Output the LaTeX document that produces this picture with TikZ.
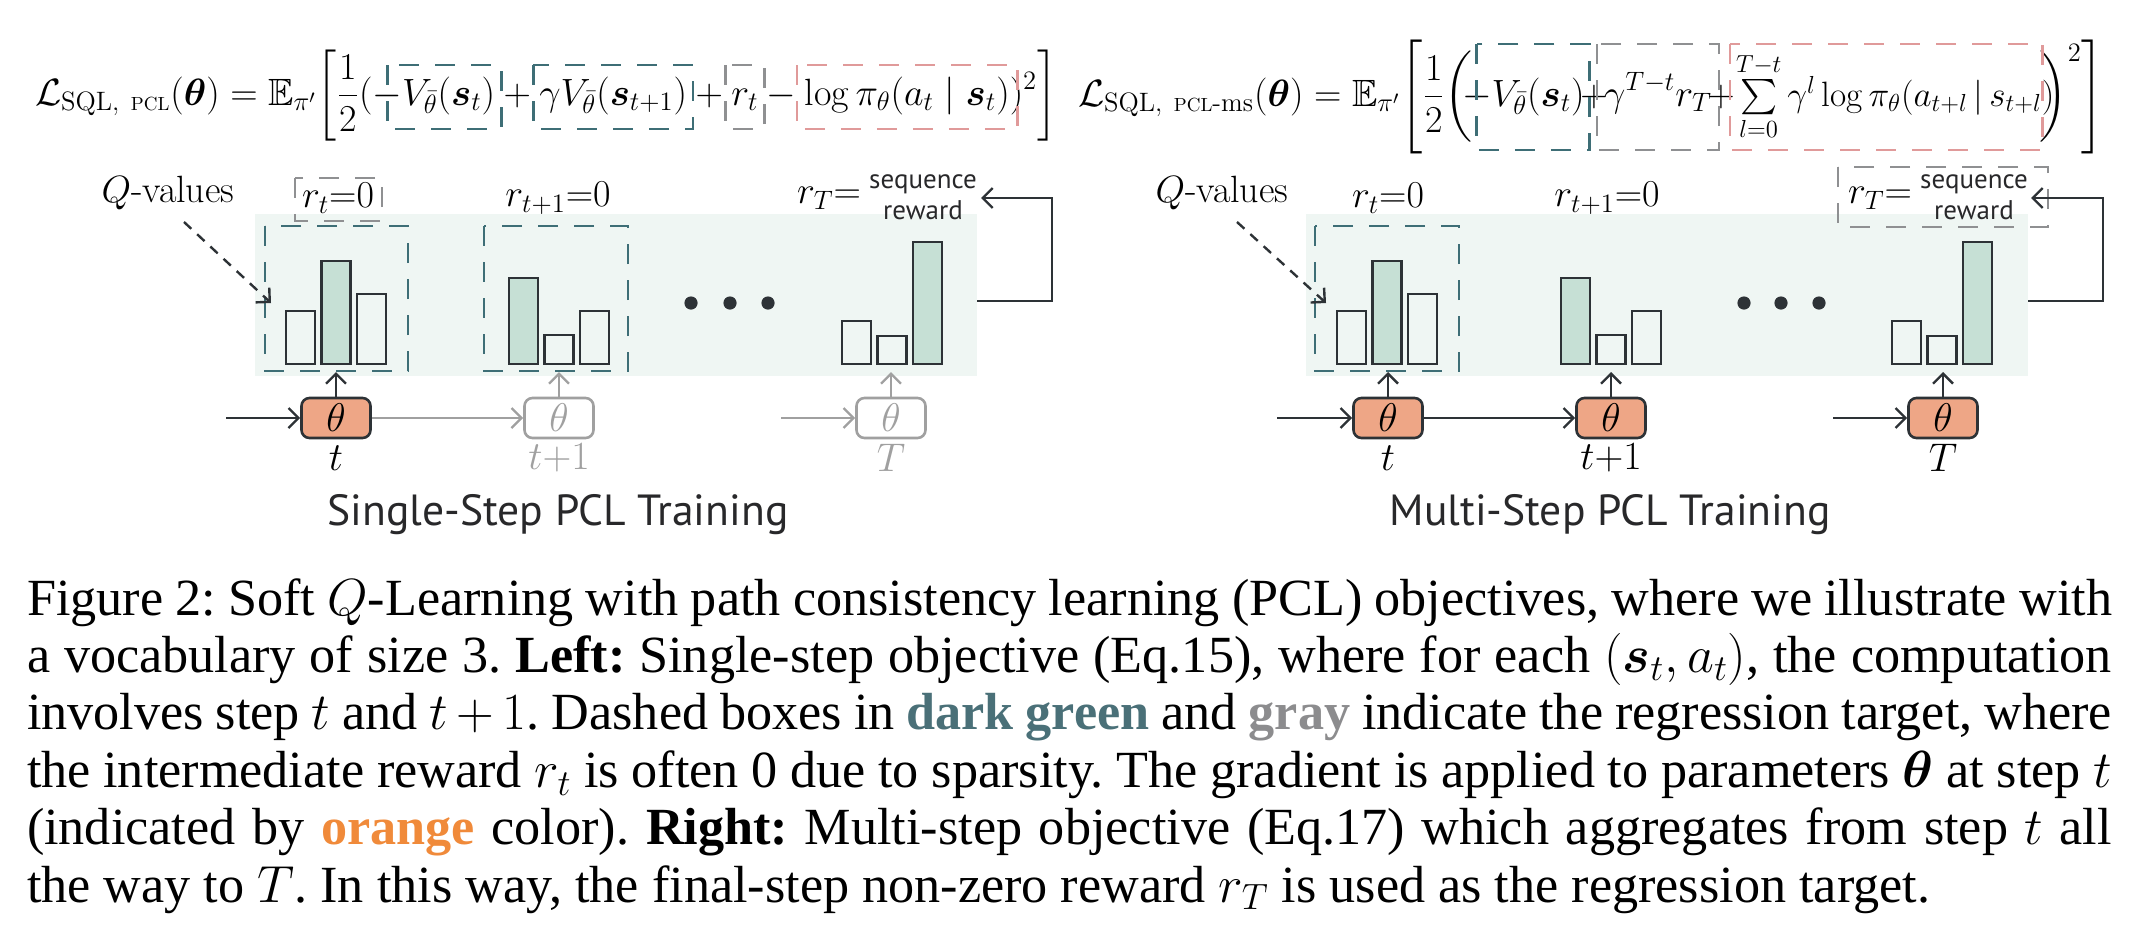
\RequirePackage{fix-cm}
\documentclass[tikz,border=0pt]{standalone}
\usepackage{amsmath,amssymb}
\usepackage{fontspec}
\newfontfamily\capfont{Liberation Serif}
\newfontfamily\ttlfont{PT Sans}
\usetikzlibrary{arrows.meta}
\definecolor{tealc}{RGB}{62,110,118}
\definecolor{grayc}{RGB}{143,144,146}
\definecolor{pinkc}{RGB}{224,154,154}
\definecolor{bgc}{RGB}{239,246,243}
\definecolor{barg}{RGB}{198,224,213}
\definecolor{barline}{RGB}{45,50,54}
\definecolor{orangec}{RGB}{238,166,134}
\definecolor{lgray}{RGB}{160,160,160}
\definecolor{capgreen}{RGB}{74,112,120}
\definecolor{capgray}{RGB}{140,140,142}
\definecolor{caporange}{RGB}{240,138,58}
\definecolor{titlec}{RGB}{40,40,42}
\newcommand{\fsz}{\fontsize{19}{23}\selectfont}
\newcommand{\ssz}{\fontsize{17.6}{22}\selectfont}
\newcommand{\lsz}{\fontsize{19}{22}\selectfont}
\newcommand{\tsz}{\fontsize{20}{23}\selectfont}
\frenchspacing
\begin{document}
\begin{tikzpicture}[x=0.5pt,y=-0.5pt,
  fp/.style={anchor=base west, inner sep=0pt, outer sep=0pt, font=\fsz},
  fpc/.style={anchor=base, inner sep=0pt, outer sep=0pt, font=\fsz},
  tealdash/.style={draw=tealc, line width=1.4pt, dash pattern=on 10pt off 8pt},
  graydash/.style={draw=grayc, line width=1.4pt, dash pattern=on 10pt off 8pt},
  pinkdash/.style={draw=pinkc, line width=1.4pt, dash pattern=on 10pt off 8pt},
  bar/.style={draw=barline, line width=1.3pt},
  gbar/.style={bar, fill=barg},
  th/.style={draw=barline, line width=1.3pt, fill=orangec, rounded corners=4pt, minimum width=34.5pt, minimum height=20pt, inner sep=0pt, font=\tsz},
  thg/.style={draw=lgray, line width=1.3pt, fill=white, text=lgray, rounded corners=4pt, minimum width=34.5pt, minimum height=20pt, inner sep=0pt, font=\tsz},
  arr/.style={draw=barline, line width=1.2pt, -{Straight Barb[length=5pt,width=10pt]}},
  garr/.style={arr, draw=lgray},
  qarr/.style={arr, dash pattern=on 5pt off 4pt},
  lab/.style={inner sep=0pt, font=\lsz},
  tlab/.style={inner sep=0pt, font=\tsz},
  glab/.style={tlab, text=lgray},
  seq/.style={inner sep=0pt, font=\ttlfont\fontsize{13.5}{14}\selectfont, text=titlec},
  ttl/.style={inner sep=0pt, font=\ttlfont\fontsize{21.8}{24}\selectfont, text=titlec},
  capline/.style={anchor=base west, inner sep=0pt, outer sep=0pt, font=\capfont\fontsize{26.1}{28.7}\selectfont},
  dotf/.style={fill=barline}
]
\useasboundingbox (0,0) rectangle (2148,944);

% ---------------- left formula ----------------
\node[fp] (a1) at (35,105) {$\displaystyle\mathcal{L}_{\mathrm{SQL},\ {\scriptscriptstyle\mathrm{PCL}}}(\boldsymbol{\theta}) = \mathbb{E}_{\pi'}\biggl[\frac{1}{2}($};
\node[fp] (a2) at (a1.base east) {$\displaystyle -V_{\bar{\theta}}(\boldsymbol{s}_t)$};
\node[fp] (a3) at (a2.base east) {$\displaystyle {}+{}$};
\node[fp] (a4) at (a3.base east) {$\displaystyle \gamma V_{\bar{\theta}}(\boldsymbol{s}_{t+1})$};
\node[fp] (a5) at (a4.base east) {$\displaystyle {}+{}$};
\node[fp] (a6) at (a5.base east) {$\displaystyle r_t$};
\node[fp] (a7) at (a6.base east) {$\displaystyle {}-{}$};
\node[fp] (a8) at (a7.base east) {$\displaystyle \log\pi_{\theta}(a_t\mid\boldsymbol{s}_t)$};
\node[fp] (a9) at (a8.base east) {$\displaystyle )^{2}\biggr]$};
\coordinate (LT) at (0,65); \coordinate (LB) at (0,129);
\coordinate (k1) at ([xshift=7.4pt]a2.base west); \coordinate (k2) at ([xshift=3pt]a2.base east);
\coordinate (k3) at ([xshift=-3pt]a4.base west); \coordinate (k4) at ([xshift=3pt]a4.base east);
\coordinate (k5) at ([xshift=-3pt]a6.base west); \coordinate (k6) at ([xshift=3pt]a6.base east);
\coordinate (k7) at ([xshift=-4pt]a8.base west); \coordinate (k8) at ([xshift=4pt]a8.base east);
\draw[tealdash] (k1 |- LT) rectangle (k2 |- LB);
\draw[tealdash] (k3 |- LT) rectangle (k4 |- LB);
\draw[graydash] (k5 |- LT) rectangle (k6 |- LB);
\draw[pinkdash] (k7 |- LT) rectangle (k8 |- LB);

% ---------------- right formula ----------------
\node[fp] (b1) at (1078,106) {$\displaystyle\mathcal{L}_{\mathrm{SQL},\ {\scriptscriptstyle\mathrm{PCL}}\text{-ms}}(\boldsymbol{\theta}) = \mathbb{E}_{\pi'}\Biggl[\frac{1}{2}\biggl($};
\node[fp] (b2) at (1462,106) {$\displaystyle -V_{\bar{\theta}}(\boldsymbol{s}_t)$};
\node[fpc] (b3) at (1594,106) {$+$};
\node[fpc] (b4) at (1658,106) {$\displaystyle \gamma^{T-t}r_T$};
\node[fpc] (b5) at (1721,106) {$+$};
\node[fp, font=\ssz] (b6) at (1736,106) {$\textstyle \sum\limits_{l=0}^{T-t}\gamma^{l}\log\pi_{\theta}(a_{t+l}\,|\,s_{t+l})$};
\node[fp, anchor=base east] (b7) at (2104,106) {$\displaystyle \biggr)^{2}\Biggr]$};
\coordinate (RT) at (0,44); \coordinate (RB) at (0,150);
\coordinate (m1) at ([xshift=7.4pt]b2.base west); \coordinate (m2) at ([xshift=2.5pt]b2.base east);
\coordinate (m3) at ([xshift=-3.5pt]b4.base west); \coordinate (m4) at ([xshift=3.5pt]b4.base east);
\coordinate (m5) at ([xshift=-3pt]b6.base west); \coordinate (m6) at ([xshift=1.5pt]b7.base west);
\draw[tealdash] (m1 |- RT) rectangle (m2 |- RB);
\draw[graydash] (m3 |- RT) rectangle (m4 |- RB);
\draw[pinkdash] (m5 |- RT) rectangle (m6 |- RB);

% ---------------- left diagram ----------------
\fill[bgc] (255,214) rectangle (977,376);
\draw[tealdash] (265,226) rectangle (408,371);
\draw[tealdash] (484,226) rectangle (628,371);
\draw[graydash] (295,178) rectangle (382,221);
\draw[bar]  (286,364) rectangle (315,311);
\draw[gbar] (321.5,364) rectangle (350.5,261);
\draw[bar]  (357,364) rectangle (386,294);
\draw[gbar] (509,364) rectangle (538,278);
\draw[bar]  (544.5,364) rectangle (573.5,335);
\draw[bar]  (580,364) rectangle (609,311);
\draw[bar]  (842,364) rectangle (871,321);
\draw[bar]  (877.5,364) rectangle (906.5,336);
\draw[gbar] (913,364) rectangle (942,242);
\fill[dotf] (691,303) circle[radius=3.3pt];
\fill[dotf] (730,303) circle[radius=3.3pt];
\fill[dotf] (768,303) circle[radius=3.3pt];

\node[lab] (qL) at (168,193) {$Q$-values};
\coordinate (qLs) at (184,222); \coordinate (qLe) at (271,303);
\draw[qarr] (qLs) -- (qLe);
\node[lab] (rL1) at (338,198) {$r_t{=}0$};
\node[lab] (rL2) at (558,198) {$r_{t+1}{=}0$};
\node[lab] (rL3) at (829,198) {$r_T{=}$};
\node[seq] (sL1) at (923,184) {sequence};
\node[seq] (sL2) at (923,210) {reward};

\node[th]  (thL1) at (336,418) {$\theta$};
\node[thg] (thL2) at (559,418) {$\theta$};
\node[thg] (thL3) at (891,418) {$\theta$};
\node[tlab] (tL1) at (336,458) {$t$};
\node[glab] (tL2) at (559,458) {$t{+}1$};
\node[glab] (tL3) at (891,458) {$T$};
\coordinate (inL1) at (226,418);
\coordinate (inL3) at (781,418);
\draw[arr] (inL1) -- (thL1);
\draw[garr] (thL1) -- (thL2);
\draw[garr] (inL3) -- (thL3);
\coordinate (gL1) at (336,372); \coordinate (gL2) at (559,372); \coordinate (gL3) at (891,372);
\draw[arr] (thL1) -- (gL1);
\draw[garr] (thL2) -- (gL2);
\draw[garr] (thL3) -- (gL3);
\coordinate (fbL1) at (977,301); \coordinate (fbLc) at (1052,250); \coordinate (fbL2) at (981,198);
\draw[arr] (fbL1) -| (fbLc) |- (fbL2);
\node[ttl] (titleL) at (558,515) {Single-Step PCL Training};

% ---------------- right diagram ----------------
\fill[bgc] (1306,214) rectangle (2028,376);
\draw[tealdash] (1315,226) rectangle (1459,371);
\draw[graydash] (1838,167) rectangle (2048,227);
\draw[bar]  (1337,364) rectangle (1366,311);
\draw[gbar] (1372.5,364) rectangle (1401.5,261);
\draw[bar]  (1408,364) rectangle (1437,294);
\draw[gbar] (1561,364) rectangle (1590,278);
\draw[bar]  (1596.5,364) rectangle (1625.5,335);
\draw[bar]  (1632,364) rectangle (1661,311);
\draw[bar]  (1892,364) rectangle (1921,321);
\draw[bar]  (1927.5,364) rectangle (1956.5,336);
\draw[gbar] (1963,364) rectangle (1992,242);
\fill[dotf] (1744,303) circle[radius=3.3pt];
\fill[dotf] (1781,303) circle[radius=3.3pt];
\fill[dotf] (1819,303) circle[radius=3.3pt];

\node[lab] (qR) at (1222,193) {$Q$-values};
\coordinate (qRs) at (1237,222); \coordinate (qRe) at (1326,303);
\draw[qarr] (qRs) -- (qRe);
\node[lab] (rR1) at (1388,198) {$r_t{=}0$};
\node[lab] (rR2) at (1607,198) {$r_{t+1}{=}0$};
\node[lab] (rR3) at (1880,198) {$r_T{=}$};
\node[seq] (sR1) at (1974,184) {sequence};
\node[seq] (sR2) at (1974,210) {reward};

\node[th] (thR1) at (1388,418) {$\theta$};
\node[th] (thR2) at (1611,418) {$\theta$};
\node[th] (thR3) at (1943,418) {$\theta$};
\node[tlab] (tR1) at (1388,458) {$t$};
\node[tlab] (tR2) at (1611,458) {$t{+}1$};
\node[tlab] (tR3) at (1943,458) {$T$};
\coordinate (inR1) at (1277,418);
\coordinate (inR3) at (1833,418);
\draw[arr] (inR1) -- (thR1);
\draw[arr] (thR1) -- (thR2);
\draw[arr] (inR3) -- (thR3);
\coordinate (gR1) at (1388,372); \coordinate (gR2) at (1611,372); \coordinate (gR3) at (1943,372);
\draw[arr] (thR1) -- (gR1);
\draw[arr] (thR2) -- (gR2);
\draw[arr] (thR3) -- (gR3);
\coordinate (fbR1) at (2028,301); \coordinate (fbRc) at (2103,250); \coordinate (fbR2) at (2031,198);
\draw[arr] (fbR1) -| (fbRc) |- (fbR2);
\node[ttl] (titleR) at (1610,515) {Multi-Step PCL Training};

% ---------------- caption ----------------
\node[capline] (c1) at (27,615) {\makebox[1042.5pt][s]{Figure 2: Soft $Q$-Learning with path consistency learning (PCL) objectives, where we illustrate with}};
\node[capline] (c2) at (27,672.4) {\makebox[1042.5pt][s]{a vocabulary of size 3. \textbf{Left:} Single-step objective (Eq.15), where for each $(\boldsymbol{s}_t, a_t)$, the computation}};
\node[capline] (c3) at (27,729.8) {\makebox[1042.5pt][s]{involves step $t$ and $t+1$. Dashed boxes in \textcolor{capgreen}{\textbf{dark green}} and \textcolor{capgray}{\textbf{gray}} indicate the regression target, where}};
\node[capline] (c4) at (27,787.2) {\makebox[1042.5pt][s]{the intermediate reward $r_t$ is often 0 due to sparsity. The gradient is applied to parameters $\boldsymbol{\theta}$ at step $t$}};
\node[capline] (c5) at (27,844.6) {\makebox[1042.5pt][s]{(indicated by \textcolor{caporange}{\textbf{orange}} color). \textbf{Right:} Multi-step objective (Eq.17) which aggregates from step $t$ all}};
\node[capline] (c6) at (27,902) {the way to $T$. In this way, the final-step non-zero reward $r_T$ is used as the regression target.};
\end{tikzpicture}
\end{document}
